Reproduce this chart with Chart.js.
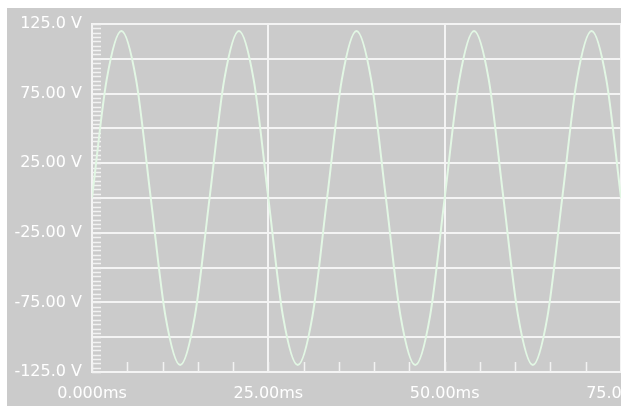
<!DOCTYPE html>
<html>
<head>
<meta charset="utf-8">
<script src="https://cdn.jsdelivr.net/npm/chart.js@4"></script>
<style>
  html, body { margin: 0; padding: 0; background: #ffffff; }
  #wrap { width: 621px; height: 406px; }
</style>
</head>
<body>
<div id="wrap"><canvas id="scope"></canvas></div>
<script>
// samples, every 1/8 of a cycle
const timesMs = [
    0, 2.08, 4.17, 6.25, 8.33, 10.42, 12.5, 14.58,
    16.67, 18.75, 20.83, 22.92, 25, 27.08, 29.17, 31.25,
    33.33, 35.42, 37.5, 39.58, 41.67, 43.75, 45.83, 47.92,
    50, 52.08, 54.17, 56.25, 58.33, 60.42, 62.5, 64.58,
    66.67, 68.75, 70.83, 72.92, 75
];
const volts = [
    0, 85, 120, 85, 0, -85, -120, -85,
    0, 85, 120, 85, 0, -85, -120, -85,
    0, 85, 120, 85, 0, -85, -120, -85,
    0, 85, 120, 85, 0, -85, -120, -85,
    0, 85, 120, 85, 0
];
const xMajor = 25;
const xMinor = 5;
const yMajor = 25;
const yMinor = 3.125;

const panelBg = {
    id: 'panelBg',
    beforeDraw(chart) {
        const c = chart.ctx;
        c.save();
        c.fillStyle = '#ffffff';
        c.fillRect(0, 0, chart.width, chart.height);
        c.fillStyle = '#cbcbcb';
        c.fillRect(7, 8, chart.width - 7, chart.height - 8);
        c.restore();
    }
};

// little scope ticks along the left and bottom edges
const minorTicks = {
    id: 'minorTicks',
    beforeDatasetsDraw(chart) {
        const c = chart.ctx;
        const x = chart.scales.x, y = chart.scales.y;
        const area = chart.chartArea;
        c.save();
        c.strokeStyle = '#f2f2f2';
        c.lineWidth = 1.5;
        c.beginPath();
        for (let v = y.min; v <= y.max + 0.001; v += yMinor) {
            const py = Math.round(y.getPixelForValue(v)) + 0.5;
            c.moveTo(area.left, py);
            c.lineTo(area.left + 9, py);
        }
        for (let t = x.min; t <= x.max + 0.001; t += xMinor) {
            const px = Math.round(x.getPixelForValue(t)) + 0.5;
            c.moveTo(px, area.bottom);
            c.lineTo(px, area.bottom - 10);
        }
        c.stroke();
        c.restore();
    }
};

new Chart(document.getElementById('scope'), {
    type: 'line',
    data: {
        labels: timesMs,
        datasets: [{
            data: timesMs.map((t, i) => ({ x: t, y: volts[i] })),
            borderColor: '#e2f7e4',
            borderWidth: 2,
            pointRadius: 0,
            cubicInterpolationMode: 'monotone',
            fill: false
        }]
    },
    options: {
        responsive: true,
        maintainAspectRatio: false,
        animation: false,
        layout: { padding: { left: 0, top: 24, right: 0, bottom: 0 } },
        plugins: {
            legend: { display: false },
            tooltip: { enabled: false }
        },
        scales: {
            x: {
                type: 'linear',
                min: 0,
                max: 75,
                grid: { color: '#f4f4f4', lineWidth: 2, drawTicks: false },
                border: { color: '#f4f4f4', width: 2 },
                ticks: {
                    stepSize: xMajor,
                    padding: 12,
                    color: '#ffffff',
                    maxRotation: 0,
                    autoSkip: false,
                    font: { family: 'DejaVu Sans', size: 16 },
                    callback: v => v.toPrecision(4) + 'ms'
                },
                afterFit(scale) {
                    scale.height = 34;
                    scale.paddingLeft = 0;
                    scale.paddingRight = 0;
                }
            },
            y: {
                min: -125,
                max: 125,
                grid: { color: '#f4f4f4', lineWidth: 2, drawTicks: false },
                border: { color: '#f4f4f4', width: 2 },
                ticks: {
                    stepSize: yMajor,
                    padding: 10,
                    color: '#ffffff',
                    autoSkip: false,
                    font: { family: 'DejaVu Sans', size: 16 },
                    callback: v => ((v + 125) % 50 === 0) ? v.toPrecision(4) + ' V' : ''
                },
                afterFit(scale) {
                    scale.width = 92;
                    scale.paddingTop = 0;
                    scale.paddingBottom = 0;
                }
            }
        }
    },
    plugins: [panelBg, minorTicks]
});
</script>
</body>
</html>
